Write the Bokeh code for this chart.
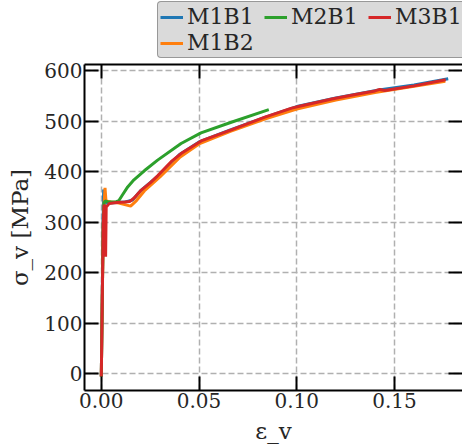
from bokeh.plotting import figure
from bokeh.layouts import column
from bokeh.models import (Range1d, FixedTicker, LinearAxis, Legend, LegendItem,
                          NumeralTickFormatter, CustomJSTickFormatter)
from bokeh.embed import file_html
from bokeh.resources import INLINE

# ---- data ----
eps_m1b1 = [0.0, 0.0005, 0.0009, 0.0012, 0.0016, 0.0022, 0.004, 0.008, 0.012, 0.016, 0.02, 0.03,
            0.04, 0.05, 0.066, 0.084, 0.1, 0.12, 0.142, 0.16, 0.1775]
sig_m1b1 = [-5, 160, 300, 365, 345, 338, 338, 339, 340, 344, 362, 395,
            434, 459, 483, 508, 529, 546, 562, 572, 584]

eps_m1b2 = [0.0, 0.0005, 0.001, 0.0014, 0.0019, 0.0024, 0.005, 0.009, 0.012, 0.015, 0.018, 0.022,
            0.03, 0.04, 0.05, 0.066, 0.084, 0.1, 0.12, 0.14, 0.16, 0.176]
sig_m1b2 = [-5, 150, 290, 335, 368, 342, 340, 338, 335, 332, 343, 362,
            390, 428, 455, 480, 505, 524, 542, 557, 569, 579]

eps_m2b1 = [0.0, 0.0005, 0.001, 0.0014, 0.002, 0.004, 0.007, 0.009, 0.0108, 0.0135, 0.0167, 0.022,
            0.0288, 0.0408, 0.051, 0.0665, 0.0857]
sig_m2b1 = [-5, 150, 300, 338, 342, 340, 340, 343, 354, 370, 384, 402,
            423, 456, 477, 498, 523]

eps_m3b1 = [0.0, 0.0005, 0.001, 0.0014, 0.0019, 0.0022, 0.0025, 0.004, 0.008, 0.012, 0.0145, 0.0168,
            0.02, 0.025, 0.0288, 0.0357, 0.0408, 0.0511, 0.0665, 0.0837, 0.0974, 0.102, 0.118,
            0.13, 0.14, 0.1425, 0.145, 0.16, 0.1762]
sig_m3b1 = [-5, 150, 300, 332, 334, 232, 330, 337, 339, 340, 341, 348,
            362, 378, 392, 420, 436, 461, 483, 508, 526, 530, 544,
            553, 560, 563, 561, 570, 582]

series_names = ["M1B1", "M1B2", "M2B1", "M3B1"]
series_colors = ["#1f77b4", "#ff7f0e", "#2ca02c", "#d62728"]
legend_order = ["M1B1", "M2B1", "M3B1", "M1B2"]

x_ticks = [0.0, 0.05, 0.10, 0.15]
y_ticks = [0, 100, 200, 300, 400, 500, 600]

FONT = "DejaVu Serif"
TXT = "#262626"

data = [(eps_m1b1, sig_m1b1), (eps_m1b2, sig_m1b2), (eps_m2b1, sig_m2b1), (eps_m3b1, sig_m3b1)]

# ---------------- main plot ----------------
p = figure(width=462, height=388, output_backend="svg", toolbar_location=None, title=None,
           x_range=Range1d(-0.0086, 0.1848), y_range=Range1d(-32.9, 612.3),
           min_border_left=84, min_border_right=0, min_border_top=6, min_border_bottom=54)
p.outline_line_color = None
p.background_fill_color = "white"
p.border_fill_color = "white"

for (ex, sy), c in zip(data, series_colors):
    p.line(ex, sy, line_color=c, line_width=3)

def style_axis(ax, ticks, show_labels=True, show_line=True):
    ax.ticker = FixedTicker(ticks=ticks)
    ax.axis_line_width = 2
    ax.axis_line_color = "black" if show_line else None
    ax.major_tick_in = 14
    ax.major_tick_out = 0
    ax.major_tick_line_width = 2
    ax.major_tick_line_color = "black"
    ax.minor_tick_line_color = None
    ax.major_label_text_font = FONT
    ax.major_label_text_color = TXT
    ax.axis_label_text_font = FONT
    ax.axis_label_text_color = TXT
    ax.axis_label_text_font_style = "normal"
    ax.axis_label_text_font_size = "23px"
    if show_labels:
        ax.major_label_text_font_size = "20px"
        ax.major_label_standoff = 2
    else:
        ax.formatter = CustomJSTickFormatter(code="return ''")
        ax.major_label_text_font_size = "0px"
        ax.major_label_standoff = 0

xb = p.xaxis[0]
style_axis(xb, x_ticks)
xb.formatter = NumeralTickFormatter(format="0.00")
xb.axis_label = "ε_v"
xb.axis_label_standoff = 7

yl = p.yaxis[0]
style_axis(yl, y_ticks)
yl.axis_label = "σ_v [MPa]"
yl.axis_label_standoff = 8

xt = LinearAxis()
style_axis(xt, x_ticks, show_labels=False)
p.add_layout(xt, "above")

yr = LinearAxis()
style_axis(yr, y_ticks, show_labels=False, show_line=False)
p.add_layout(yr, "right")

for g in (p.xgrid[0], p.ygrid[0]):
    g.grid_line_color = "#b0b0b0"
    g.grid_line_dash = "6 3"
    g.grid_line_width = 1.5

# ---------------- legend strip above the plot ----------------
# the same series are drawn here, far outside the visible range, only to feed the legend
leg = figure(width=462, height=58, output_backend="svg", toolbar_location=None, title=None,
             x_axis_type=None, y_axis_type=None,
             x_range=Range1d(-0.0086, 0.1848), y_range=Range1d(5000, 5001),
             min_border=0)
leg.outline_line_color = None
leg.background_fill_color = "white"
leg.border_fill_color = "white"
handles = {}
for name, (ex, sy), c in zip(series_names, data, series_colors):
    handles[name] = leg.line(ex, sy, line_color=c, line_width=3)

legend = Legend(items=[LegendItem(label=n, renderers=[handles[n]]) for n in legend_order],
                location=(73, 0), orientation="horizontal", ncols=3)
legend.label_text_font = FONT
legend.label_text_font_size = "22px"
legend.label_text_color = TXT
legend.glyph_width = 23
legend.glyph_height = 24
legend.label_height = 24
legend.label_width = 76
legend.label_standoff = 4
legend.spacing = 1
legend.padding = 2
legend.margin = 0
legend.border_line_color = "#555555"
legend.border_line_width = 1.5
legend.border_radius = 4
legend.background_fill_color = "#dadada"
legend.background_fill_alpha = 1.0
leg.add_layout(legend, "center")

layout = column(leg, p, spacing=0)
open("out.html", "w").write(file_html(layout, INLINE))
